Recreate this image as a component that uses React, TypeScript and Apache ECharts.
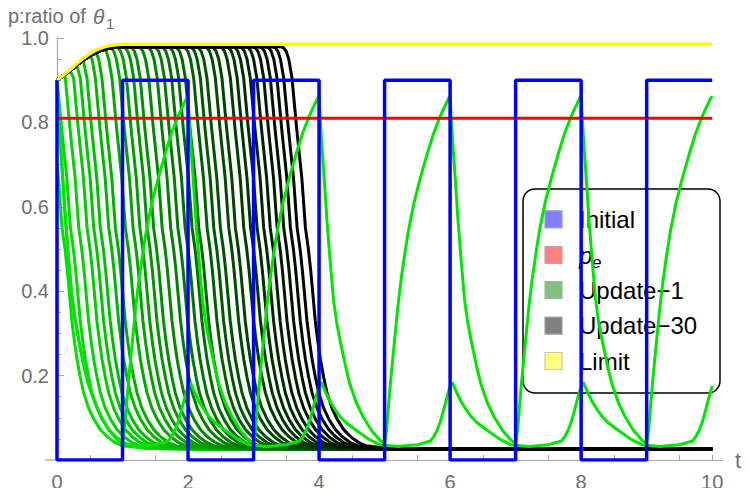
import React, { useEffect, useRef } from "react";
import * as echarts from "echarts";

// ---------- tick values ----------
const xTickLabels = [0, 2, 4, 6, 8, 10];
const xTicks = [0, 0.5, 1, 1.5, 2, 2.5, 3, 3.5, 4, 4.5, 5, 5.5, 6, 6.5, 7, 7.5, 8, 8.5, 9, 9.5, 10];

// ---------- Initial (square wave) ----------
const initialT = [0, 0, 1, 1, 2, 2, 3, 3, 4, 4, 5, 5, 6, 6, 7, 7, 8, 8, 9, 9, 10];
const initialP = [0.9, 0, 0, 0.9, 0.9, 0, 0, 0.9, 0.9, 0, 0, 0.9, 0.9, 0, 0, 0.9, 0.9, 0, 0, 0.9, 0.9];

// ---------- p_e ----------
const peT = [0, 10];
const peP = [0.81, 0.81];

// ---------- Limit ----------
const limitT = [0, 0.1, 0.2, 0.3, 0.4, 0.5, 0.6, 0.7, 0.8, 0.9, 1.0, 1.2, 10];
const limitP = [0.9, 0.912, 0.925, 0.939, 0.952, 0.963, 0.972, 0.978, 0.982, 0.984, 0.985, 0.985, 0.985];

// ---------- update family: shared rise, drop shape, and drop times (t where p≈0.5) ----------
const riseT = [0, 0.1, 0.2, 0.3, 0.4, 0.5, 0.6, 0.7, 0.8, 0.9, 1.0, 1.2];
const riseP = [0.9, 0.911, 0.923, 0.936, 0.948, 0.958, 0.966, 0.972, 0.976, 0.978, 0.979, 0.979];
const dropOff = [-0.42, -0.38, -0.34, -0.3, -0.25, -0.18, -0.1, -0.045, 0, 0.035, 0.07, 0.105, 0.145, 0.185, 0.235, 0.285, 0.36, 0.445, 0.54, 0.645, 0.76, 0.875, 1.2, 1.7, 2.5];
const dropP = [0.979, 0.977, 0.969, 0.95, 0.905, 0.787, 0.668, 0.55, 0.5, 0.45, 0.39, 0.33, 0.28, 0.237, 0.195, 0.159, 0.123, 0.095, 0.072, 0.055, 0.042, 0.034, 0.028, 0.026, 0.026];
const updateCross = [
  0.122, 0.25, 0.377, 0.504, 0.606, 0.707, 0.835, 0.936, 1.089, 1.206, 1.31, 1.42,
  1.52, 1.65, 1.78, 1.89, 2.0, 2.107, 2.209, 2.336, 2.438, 2.539, 2.667, 2.768,
  2.896, 3.0, 3.099, 3.2, 3.3, 3.405, 3.506, 3.608, 3.71, 3.837,
];

// ---------- oscillating update (A) ----------
const aFirstT = [0, 0.02, 0.07, 0.12, 0.17, 0.22, 0.27, 0.32, 0.4, 0.47, 0.57, 0.68, 0.8, 0.93, 1.0];
const aFirstP = [0.9, 0.84, 0.71, 0.59, 0.49, 0.4, 0.34, 0.295, 0.23, 0.185, 0.14, 0.1, 0.07, 0.047, 0.04];
const aRiseOff = [0, 0.03, 0.06, 0.1, 0.15, 0.2, 0.25, 0.3, 0.36, 0.45, 0.54, 0.65, 0.75, 0.85, 0.97, 1.0];
const aRiseP = [0.04, 0.07, 0.13, 0.2, 0.28, 0.36, 0.425, 0.48, 0.54, 0.61, 0.665, 0.725, 0.775, 0.815, 0.855, 0.862];
const aDecayOff = [0, 0.02, 0.045, 0.07, 0.12, 0.17, 0.22, 0.27, 0.32, 0.4, 0.47, 0.57, 0.68, 0.8, 0.93, 1.0];
const aDecayP = [0.862, 0.8, 0.74, 0.687, 0.569, 0.47, 0.38, 0.325, 0.284, 0.225, 0.18, 0.135, 0.1, 0.07, 0.047, 0.04];
const aRiseStarts = [1, 3, 5, 7, 9];
const aDecayStarts = [2, 4, 6, 8];

// ---------- small-spike update (B) ----------
const bCycleOff = [0.1, 0.17, 0.25, 0.32, 0.4, 0.56, 0.75, 0.93, 1.2, 1.5, 1.7, 1.75, 1.8, 1.85, 1.9, 1.95, 2.0, 2.04];
const bCycleP = [0.16, 0.138, 0.118, 0.103, 0.09, 0.071, 0.05, 0.036, 0.032, 0.036, 0.045, 0.055, 0.07, 0.09, 0.118, 0.148, 0.175, 0.182];
const bCycleStarts = [0, 2, 4, 6, 8];

function interp(xs: number[], ys: number[], x: number) {
  if (x <= xs[0]) return ys[0];
  if (x >= xs[xs.length - 1]) return ys[ys.length - 1];
  for (let i = 1; i < xs.length; i++) {
    if (x <= xs[i]) {
      const f = (x - xs[i - 1]) / (xs[i] - xs[i - 1]);
      return ys[i - 1] + f * (ys[i] - ys[i - 1]);
    }
  }
  return ys[ys.length - 1];
}

function zip(t: number[], p: number[]) {
  return t.map((v, i) => [v, p[i]]);
}

function familyCurve(s: number) {
  const ts = new Set<number>([0, 10]);
  riseT.forEach((t) => ts.add(t));
  dropOff.forEach((o) => {
    const t = +(s + o).toFixed(4);
    if (t >= 0 && t <= 10) ts.add(t);
  });
  return Array.from(ts)
    .sort((a, b) => a - b)
    .map((t) => [t, Math.min(interp(riseT, riseP, t), interp(dropOff, dropP, t - s))]);
}

function curveA() {
  const pts: number[][] = zip(aFirstT, aFirstP);
  aRiseStarts.forEach((o, k) => {
    aRiseOff.forEach((off, i) => {
      if (i > 0) pts.push([o + off, aRiseP[i]]);
    });
    const e = aDecayStarts[k];
    if (e !== undefined) {
      aDecayOff.forEach((off, i) => {
        if (i > 0) pts.push([e + off, aDecayP[i]]);
      });
    }
  });
  return pts;
}

function curveB() {
  const pts: number[][] = zip(aFirstT, aFirstP);
  bCycleStarts.forEach((e) => {
    bCycleOff.forEach((off, i) => {
      const t = e + off;
      if (e === 0 && off <= 1.0) return;
      if (t > 10) return;
      pts.push([t, bCycleP[i]]);
    });
  });
  return pts;
}

const FONT = "'Liberation Sans', Arial, sans-serif";
const AXIS_GRAY = "#a6a6a6";
const LABEL_GRAY = "#6f6f6f";

export default function App() {
  const ref = useRef<HTMLDivElement>(null);
  useEffect(() => {
    if (!ref.current) return;
    const chart = echarts.init(ref.current, undefined, { renderer: "svg" });
    const n = updateCross.length;
    const familySeries = updateCross.map((s, i) => {
      const g = Math.round(225 * (1 - i / (n - 1)));
      return {
        name: "Update-" + (i + 1),
        type: "line",
        data: familyCurve(s),
        showSymbol: false,
        lineStyle: { width: 3, color: `rgb(0,${g},0)`, join: "round" },
        silent: true,
      };
    });
    const legendRows = [
      { text: "Initial", fill: "#8080ff", stroke: "#9a9ac8" },
      { text: "p", sub: "e", fill: "#ff8080", stroke: "#c8a0a0" },
      { text: "Update−1", fill: "#80c080", stroke: "#a0b8a0" },
      { text: "Update−30", fill: "#808080", stroke: "#a0a0a0" },
      { text: "Limit", fill: "#ffff80", stroke: "#c8c8a0" },
    ];
    const rowY = [30.3, 66, 101, 136.7, 172];
    const legendChildren: any[] = [
      {
        type: "rect",
        shape: { x: 0, y: 0, width: 197, height: 204, r: 12 },
        style: { fill: "none", stroke: "#000", lineWidth: 1.5 },
      },
    ];
    legendRows.forEach((r, i) => {
      legendChildren.push({
        type: "rect",
        shape: { x: 22, y: rowY[i] - 8.5, width: 17, height: 17 },
        style: { fill: r.fill, stroke: r.stroke, lineWidth: 1.2 },
      });
      legendChildren.push({
        type: "text",
        x: 56,
        y: rowY[i],
        style: {
          text: r.text,
          fontSize: 24,
          fontFamily: FONT,
          fontStyle: r.sub ? "italic" : "normal",
          fill: "#000",
          align: "left",
          verticalAlign: "middle",
        },
      });
      if (r.sub) {
        legendChildren.push({
          type: "text",
          x: 69,
          y: rowY[i] + 7,
          style: {
            text: r.sub,
            fontSize: 17,
            fontFamily: FONT,
            fontStyle: "italic",
            fill: "#000",
            align: "left",
            verticalAlign: "middle",
          },
        });
      }
    });

    chart.setOption({
      animation: false,
      grid: { left: 57, top: 38, width: 665, height: 422, containLabel: false },
      xAxis: {
        type: "value",
        min: 0,
        max: 10.15,
        axisLine: { lineStyle: { color: AXIS_GRAY, width: 1.2 } },
        axisTick: { show: true, inside: true, length: 5, customValues: xTicks, lineStyle: { color: AXIS_GRAY } },
        axisLabel: { customValues: xTickLabels, color: LABEL_GRAY, fontSize: 20, fontFamily: FONT, margin: 12 },
        splitLine: { show: false },
      },
      yAxis: {
        type: "value",
        min: 0,
        max: 1,
        interval: 0.2,
        axisLine: { lineStyle: { color: AXIS_GRAY, width: 1.2 } },
        axisTick: { show: true, inside: true, length: 7, lineStyle: { color: AXIS_GRAY } },
        minorTick: { show: true, splitNumber: 4, length: 4, lineStyle: { color: AXIS_GRAY } },
        axisLabel: {
          color: LABEL_GRAY,
          fontSize: 20,
          fontFamily: FONT,
          margin: 8,
          formatter: (v: number) => (v === 0 ? "" : v.toFixed(1)),
        },
        splitLine: { show: false },
      },
      series: [
        ...familySeries,
        {
          name: "Update-A",
          type: "line",
          data: curveA(),
          showSymbol: false,
          lineStyle: { width: 3, color: "#00e600", join: "round" },
        },
        {
          name: "Update-B",
          type: "line",
          data: curveB(),
          showSymbol: false,
          lineStyle: { width: 3, color: "#00e600", join: "round" },
        },
        {
          name: "Limit",
          type: "line",
          data: zip(limitT, limitP),
          showSymbol: false,
          lineStyle: { width: 3.5, color: "#ffff00" },
        },
        {
          name: "p_e",
          type: "line",
          data: zip(peT, peP),
          showSymbol: false,
          lineStyle: { width: 3, color: "#ff0000" },
        },
        {
          name: "Initial",
          type: "line",
          data: zip(initialT, initialP),
          showSymbol: false,
          lineStyle: { width: 3.5, color: "#0000ff" },
        },
      ],
      graphic: [
        {
          type: "line",
          shape: { x1: 45, y1: 460, x2: 57, y2: 460 },
          style: { stroke: AXIS_GRAY, lineWidth: 1.2 },
          silent: true,
        },
        {
          type: "text",
          x: 735,
          y: 460,
          style: { text: "t", fill: LABEL_GRAY, fontFamily: FONT, fontSize: 22, align: "left", verticalAlign: "middle" },
        },
        {
          type: "text",
          x: 8,
          y: 16,
          style: { text: "p:ratio of", fill: LABEL_GRAY, fontFamily: FONT, fontSize: 20, align: "left", verticalAlign: "middle" },
        },
        {
          type: "text",
          x: 93,
          y: 16,
          style: { text: "θ", fill: LABEL_GRAY, fontFamily: FONT, fontSize: 21, fontStyle: "italic", align: "left", verticalAlign: "middle" },
        },
        {
          type: "text",
          x: 106,
          y: 23,
          style: { text: "1", fill: LABEL_GRAY, fontFamily: FONT, fontSize: 15, align: "left", verticalAlign: "middle" },
        },
        { type: "group", x: 523, y: 189, children: legendChildren },
      ],
    });
    return () => chart.dispose();
  }, []);
  return <div ref={ref} style={{ width: 750, height: 496, margin: -8 }} />;
}
